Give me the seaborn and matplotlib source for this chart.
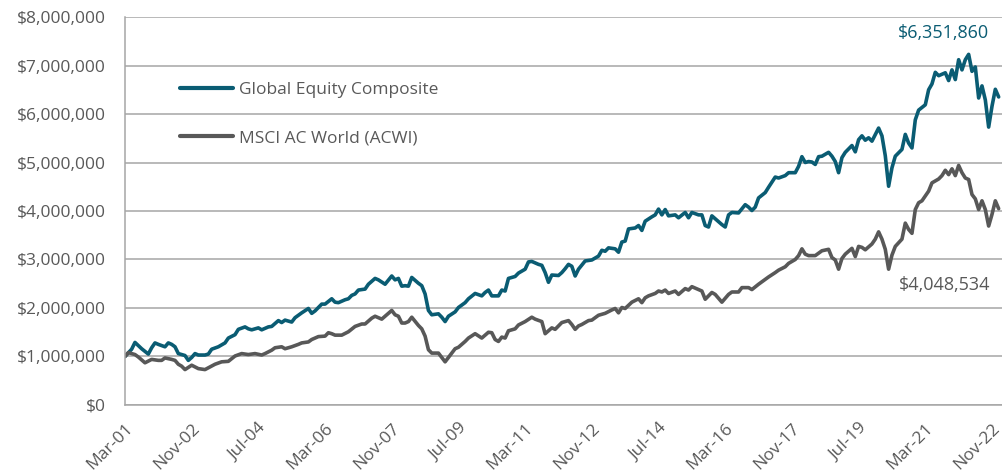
import matplotlib
matplotlib.use("Agg")
import pandas as pd
import matplotlib.pyplot as plt
from matplotlib.ticker import FuncFormatter
import seaborn as sns

# Growth of $1,000,000 since Mar-01, values in $ millions, x = months since Mar-01
composite_months = [
    0, 2, 3, 5, 7, 8, 9, 10, 12, 13,
    14, 15, 16, 18, 19, 20, 21, 22, 24, 25,
    26, 28, 30, 31, 33, 34, 36, 37, 38, 40,
    41, 43, 44, 46, 47, 48, 50, 51, 53, 55,
    56, 57, 59, 60, 62, 63, 64, 66, 67, 68,
    69, 70, 72, 73, 75, 76, 78, 80, 81, 82,
    83, 84, 85, 86, 88, 89, 90, 91, 92, 94,
    95, 96, 97, 99, 100, 102, 103, 105, 107, 108,
    109, 110, 112, 113, 114, 115, 117, 118, 120, 121,
    122, 124, 125, 126, 127, 128, 130, 131, 132, 133,
    134, 135, 136, 138, 140, 142, 143, 144, 145, 147,
    148, 149, 150, 151, 153, 154, 155, 156, 158, 159,
    160, 161, 162, 163, 165, 166, 168, 169, 170, 172,
    173, 174, 175, 176, 177, 179, 180, 181, 182, 184,
    186, 187, 188, 189, 190, 192, 193, 195, 196, 198,
    199, 201, 202, 203, 204, 205, 206, 207, 208, 209,
    211, 212, 213, 214, 215, 216, 218, 219, 220, 221,
    222, 223, 224, 226, 227, 228, 229, 230, 231, 233,
    234, 235, 236, 237, 238, 240, 241, 242, 243, 244,
    246, 247, 248, 249, 250, 251, 252, 253, 254, 255,
    256, 257, 258, 259, 260, 261, 262,
]
composite_values = [
    1.00, 1.15, 1.29, 1.16, 1.05, 1.18, 1.28, 1.25, 1.20, 1.28,
    1.25, 1.20, 1.06, 1.02, 0.92, 0.98, 1.06, 1.03, 1.03, 1.05,
    1.15, 1.20, 1.28, 1.38, 1.45, 1.56, 1.61, 1.57, 1.55, 1.59,
    1.55, 1.61, 1.62, 1.74, 1.70, 1.75, 1.71, 1.80, 1.90, 1.99,
    1.89, 1.94, 2.08, 2.08, 2.19, 2.12, 2.11, 2.17, 2.19, 2.26,
    2.29, 2.37, 2.39, 2.49, 2.61, 2.58, 2.49, 2.66, 2.58, 2.61,
    2.45, 2.46, 2.45, 2.63, 2.51, 2.46, 2.29, 1.95, 1.86, 1.88,
    1.81, 1.72, 1.83, 1.92, 2.01, 2.11, 2.19, 2.30, 2.25, 2.32,
    2.37, 2.25, 2.25, 2.37, 2.35, 2.61, 2.65, 2.72, 2.80, 2.95,
    2.96, 2.90, 2.88, 2.73, 2.53, 2.68, 2.67, 2.73, 2.81, 2.90,
    2.86, 2.66, 2.80, 2.97, 2.99, 3.07, 3.19, 3.17, 3.24, 3.22,
    3.15, 3.36, 3.38, 3.63, 3.65, 3.70, 3.60, 3.79, 3.88, 3.92,
    4.04, 3.92, 4.03, 3.90, 3.92, 3.86, 3.97, 3.86, 3.97, 3.92,
    3.92, 3.70, 3.67, 3.90, 3.84, 3.72, 3.67, 3.92, 3.97, 3.96,
    4.13, 4.08, 4.01, 4.08, 4.27, 4.38, 4.49, 4.70, 4.68, 4.73,
    4.79, 4.79, 4.92, 5.12, 5.00, 5.02, 5.01, 4.96, 5.12, 5.13,
    5.21, 5.13, 5.02, 4.79, 5.10, 5.21, 5.35, 5.22, 5.47, 5.55,
    5.46, 5.51, 5.44, 5.71, 5.55, 5.14, 4.51, 4.89, 5.13, 5.27,
    5.58, 5.40, 5.30, 5.88, 6.08, 6.19, 6.50, 6.62, 6.86, 6.79,
    6.85, 6.69, 6.91, 6.71, 7.12, 6.91, 7.12, 7.23, 6.88, 6.97,
    6.33, 6.58, 6.29, 5.73, 6.16, 6.51, 6.351860,
]

acwi_months = [
    0, 1, 3, 4, 6, 8, 10, 11, 12, 14,
    15, 16, 17, 18, 20, 22, 24, 27, 29, 31,
    33, 35, 37, 39, 41, 42, 44, 45, 47, 48,
    50, 52, 53, 55, 56, 58, 60, 61, 62, 63,
    65, 67, 69, 71, 72, 74, 75, 77, 80, 81,
    82, 83, 84, 85, 86, 88, 89, 90, 91, 92,
    94, 96, 97, 99, 100, 102, 103, 105, 107, 109,
    110, 111, 112, 113, 114, 115, 117, 118, 120, 122,
    123, 125, 126, 128, 129, 131, 133, 134, 135, 136,
    137, 139, 140, 142, 144, 146, 147, 148, 149, 150,
    152, 154, 155, 156, 157, 159, 160, 161, 162, 163,
    165, 166, 168, 169, 170, 172, 173, 174, 176, 177,
    179, 181, 182, 184, 185, 187, 188, 190, 192, 193,
    195, 196, 198, 199, 201, 202, 203, 204, 205, 207,
    209, 211, 212, 213, 214, 215, 216, 218, 219, 220,
    221, 222, 224, 225, 226, 227, 228, 229, 230, 231,
    233, 234, 235, 236, 237, 238, 239, 241, 242, 244,
    245, 246, 247, 248, 249, 250, 251, 252, 253, 254,
    255, 256, 257, 258, 259, 260, 261, 262,
]
acwi_values = [
    1.00, 1.08, 1.04, 0.99, 0.87, 0.94, 0.92, 0.92, 0.97, 0.94,
    0.92, 0.84, 0.80, 0.73, 0.82, 0.75, 0.73, 0.84, 0.89, 0.90,
    1.01, 1.06, 1.04, 1.06, 1.03, 1.06, 1.13, 1.18, 1.20, 1.16,
    1.20, 1.25, 1.28, 1.30, 1.35, 1.41, 1.42, 1.49, 1.47, 1.44,
    1.44, 1.51, 1.62, 1.67, 1.67, 1.79, 1.83, 1.77, 1.95, 1.86,
    1.83, 1.69, 1.69, 1.72, 1.81, 1.64, 1.57, 1.42, 1.14, 1.07,
    1.07, 0.89, 0.98, 1.16, 1.19, 1.31, 1.38, 1.47, 1.38, 1.50,
    1.49, 1.35, 1.31, 1.40, 1.38, 1.53, 1.57, 1.65, 1.72, 1.81,
    1.77, 1.72, 1.47, 1.59, 1.56, 1.70, 1.74, 1.66, 1.56, 1.63,
    1.66, 1.74, 1.75, 1.85, 1.89, 1.96, 1.99, 1.90, 2.01, 1.99,
    2.12, 2.19, 2.11, 2.21, 2.25, 2.30, 2.35, 2.33, 2.37, 2.30,
    2.35, 2.28, 2.40, 2.37, 2.44, 2.38, 2.35, 2.18, 2.32, 2.28,
    2.12, 2.28, 2.33, 2.33, 2.42, 2.42, 2.38, 2.49, 2.59, 2.64,
    2.73, 2.78, 2.85, 2.92, 3.00, 3.08, 3.22, 3.11, 3.08, 3.08,
    3.18, 3.21, 3.04, 2.99, 2.80, 3.02, 3.11, 3.23, 3.06, 3.27,
    3.25, 3.20, 3.32, 3.42, 3.57, 3.42, 3.21, 2.80, 3.09, 3.27,
    3.42, 3.75, 3.62, 3.54, 4.03, 4.17, 4.21, 4.41, 4.58, 4.66,
    4.73, 4.84, 4.75, 4.87, 4.73, 4.94, 4.79, 4.68, 4.65, 4.34,
    4.25, 4.03, 4.21, 4.03, 3.69, 3.93, 4.21, 4.048534,
]

x_tick_labels = ["Mar-01", "Nov-02", "Jul-04", "Mar-06", "Nov-07", "Jul-09", "Mar-11",
                 "Nov-12", "Jul-14", "Mar-16", "Nov-17", "Jul-19", "Mar-21", "Nov-22"]

COMPOSITE = "Global Equity Composite"
ACWI = "MSCI AC World (ACWI)"
colors = {COMPOSITE: "#0A5C73", ACWI: "#585858"}
TEXT = "#595959"
GRID = "#A6A6A6"
FONT_SIZE = 12.5

df = pd.concat([
    pd.DataFrame({"month": composite_months, "value": composite_values, "series": COMPOSITE}),
    pd.DataFrame({"month": acwi_months, "value": acwi_values, "series": ACWI}),
])

sns.set_style("white")
plt.rcParams["font.family"] = ["Open Sans", "DejaVu Sans"]

fig = plt.figure(figsize=(10.03, 4.74), dpi=100)
ax = fig.add_axes([0.1246, 0.1456, 0.8744, 0.8185])

sns.lineplot(data=df, x="month", y="value", hue="series", palette=colors,
             linewidth=2.6, ax=ax)

ax.set_xlim(0, 263)
ax.set_ylim(0, 8)
ax.set_xlabel("")
ax.set_ylabel("")

ax.set_yticks(range(0, 9))
ax.yaxis.set_major_formatter(FuncFormatter(lambda v, _: f"${v * 1e6:,.0f}"))
ax.set_xticks(range(0, 20 * len(x_tick_labels), 20))
ax.set_xticklabels(x_tick_labels, rotation=45, ha="right", rotation_mode="anchor")

ax.grid(axis="y", color=GRID, linewidth=1.1)
ax.set_axisbelow(True)
for side in ["top", "right"]:
    ax.spines[side].set_visible(False)
for side in ["left", "bottom"]:
    ax.spines[side].set_color(GRID)
    ax.spines[side].set_linewidth(1.1)

ax.tick_params(axis="both", colors=GRID, labelcolor=TEXT, labelsize=FONT_SIZE,
               length=5, width=1.1, direction="out")
ax.tick_params(axis="y", pad=9)
ax.tick_params(axis="x", pad=6)

# ending values next to each line
ax.annotate(f"${composite_values[-1] * 1e6:,.0f}", xy=(composite_months[-1], composite_values[-1]),
            xytext=(-7, 46), textcoords="offset points", ha="right", va="center",
            color=colors[COMPOSITE], fontsize=13)
ax.annotate(f"${acwi_values[-1] * 1e6:,.0f}", xy=(acwi_months[-1], acwi_values[-1]),
            xytext=(-6, -55), textcoords="offset points", ha="right", va="center",
            color=colors[ACWI], fontsize=13)

leg = ax.legend(loc="upper left", bbox_to_anchor=(0.063, 0.833), frameon=False,
                fontsize=FONT_SIZE, handlelength=3.05, handletextpad=0.35,
                labelspacing=1.85, borderpad=0, borderaxespad=0)
for text in leg.get_texts():
    text.set_color(TEXT)
for line in leg.get_lines():
    line.set_linewidth(3)

fig.savefig("out.png", dpi=100)
